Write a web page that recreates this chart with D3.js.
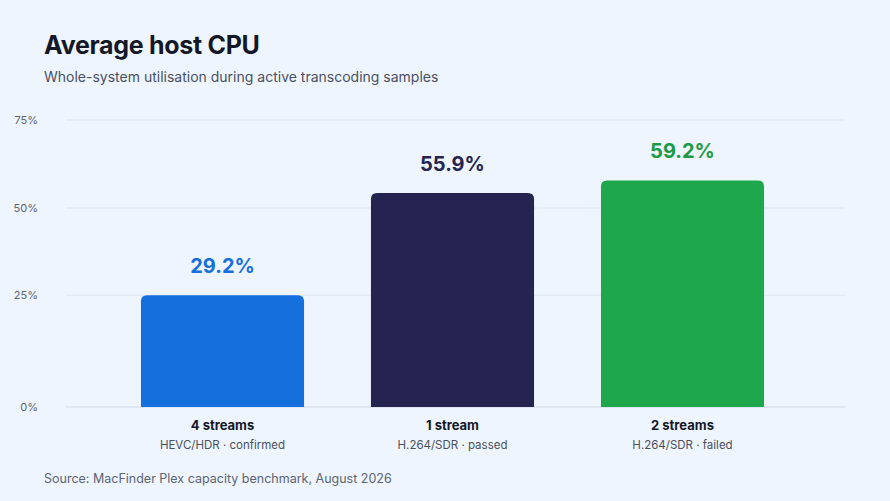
<!DOCTYPE html>
<html>
<head>
<meta charset="utf-8">
<script src="https://cdn.jsdelivr.net/npm/d3@7"></script>
<style>
  html, body { margin: 0; padding: 0; background: #eef5fe; }
  svg { display: block; font-family: Inter, "Noto Sans", sans-serif; }
</style>
</head>
<body>
<svg id="chart" width="890" height="501"></svg>
<script>
const categories = ['4 streams', '1 stream', '2 streams'];
const subLabels = ['HEVC/HDR · confirmed', 'H.264/SDR · passed', 'H.264/SDR · failed'];
const values = [29.2, 55.9, 59.2];
const barColors = ['#1570de', '#25234f', '#1fa84b'];
const labelColors = ['#1570de', '#25234f', '#1c9a45'];
// gridline positions as drawn in the reference, with their printed labels
const tickPositions = [0, 29.2, 52.0, 75];
const tickLabels = ['0%', '25%', '50%', '75%'];

const svg = d3.select('#chart');

svg.append('text').attr('x', 44).attr('y', 54)
  .attr('font-size', 25).attr('font-weight', 700).attr('fill', '#141826')
  .attr('letter-spacing', '-0.3').text('Average host CPU');
svg.append('text').attr('x', 44).attr('y', 82)
  .attr('font-size', 14).attr('fill', '#4a5060')
  .text('Whole-system utilisation during active transcoding samples');

const x = d3.scaleBand().domain(categories).range([107.5, 797.5])
  .paddingInner(0.291).paddingOuter(0.1455);
const y = d3.scaleLinear().domain([0, 75]).range([407, 120]);

const grid = svg.append('g');
tickPositions.forEach((t, i) => {
  grid.append('line').attr('x1', 66).attr('x2', 845)
    .attr('y1', y(t)).attr('y2', y(t))
    .attr('stroke', i === 0 ? '#cfd8e6' : '#dde6f2').attr('stroke-width', 1);
  grid.append('text').attr('x', 38).attr('y', y(t) + 4)
    .attr('text-anchor', 'end').attr('font-size', 11).attr('fill', '#5d6472')
    .text(tickLabels[i]);
});

const r = 6;
const bars = svg.append('g').selectAll('g').data(values).join('g');
bars.append('path')
  .attr('fill', (d, i) => barColors[i])
  .attr('d', (d, i) => {
    const x0 = x(categories[i]), w = x.bandwidth(), y0 = y(d), y1 = y(0);
    return `M${x0},${y1}V${y0 + r}Q${x0},${y0} ${x0 + r},${y0}H${x0 + w - r}Q${x0 + w},${y0} ${x0 + w},${y0 + r}V${y1}Z`;
  });
bars.append('text')
  .attr('x', (d, i) => x(categories[i]) + x.bandwidth() / 2)
  .attr('y', d => y(d) - 22)
  .attr('text-anchor', 'middle').attr('font-size', 20).attr('font-weight', 700)
  .attr('fill', (d, i) => labelColors[i])
  .text(d => d.toFixed(1) + '%');
bars.append('text')
  .attr('x', (d, i) => x(categories[i]) + x.bandwidth() / 2)
  .attr('y', 430).attr('text-anchor', 'middle')
  .attr('font-size', 13).attr('font-weight', 700).attr('fill', '#141826')
  .text((d, i) => categories[i]);
bars.append('text')
  .attr('x', (d, i) => x(categories[i]) + x.bandwidth() / 2)
  .attr('y', 449).attr('text-anchor', 'middle')
  .attr('font-size', 11.5).attr('fill', '#4a5060')
  .text((d, i) => subLabels[i]);

svg.append('text').attr('x', 44).attr('y', 483)
  .attr('font-size', 12.5).attr('fill', '#5d6472')
  .text('Source: MacFinder Plex capacity benchmark, August 2026');
</script>
</body>
</html>
